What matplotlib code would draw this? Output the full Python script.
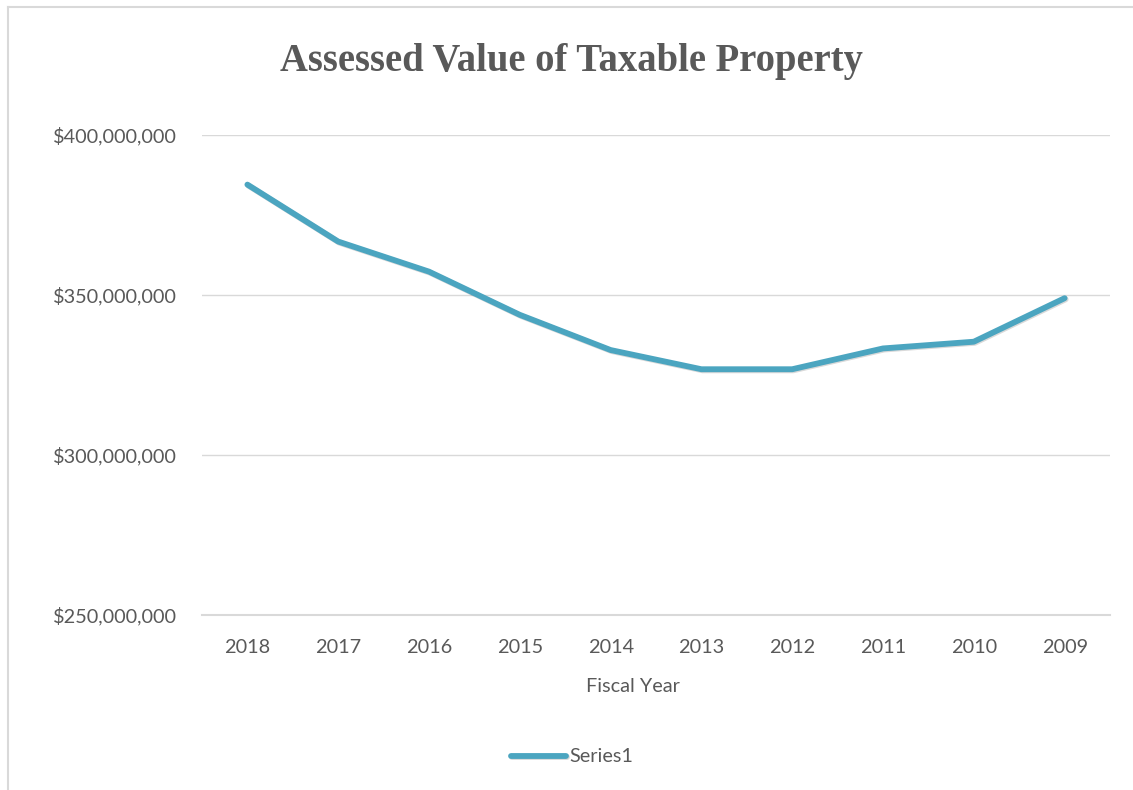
import matplotlib
matplotlib.use("Agg")
import matplotlib.pyplot as plt
import matplotlib.patheffects as pe
from matplotlib.ticker import FuncFormatter

# values
years = ["2018", "2017", "2016", "2015", "2014", "2013", "2012", "2011", "2010", "2009"]
assessed_value = [
    384.5e6, 366.7e6, 357.3e6, 343.8e6, 332.8e6,
    326.8e6, 326.8e6, 333.3e6, 335.4e6, 349.0e6,
]
y_ticks = [250e6, 300e6, 350e6, 400e6]

TEXT = "#595959"
GRID = "#D9D9D9"
LINE = "#4BA5C0"


def plot():
    fig = plt.figure(figsize=(11.33, 7.9), dpi=100)
    ax = fig.add_axes([202 / 1133, 1 - 615 / 790, (1110 - 202) / 1133, (615 - 135) / 790])

    # chart border (top and left visible in the reference)
    fig.add_artist(plt.Line2D([8 / 1133, 1.0], [1 - 7 / 790] * 2, color=GRID, lw=1.5))
    fig.add_artist(plt.Line2D([8 / 1133] * 2, [0.0, 1 - 7 / 790], color=GRID, lw=1.5))

    x = range(len(years))
    ax.plot(
        x, assessed_value, color=LINE, lw=4.2, solid_capstyle="round",
        solid_joinstyle="round", label="Series1",
        path_effects=[pe.SimpleLineShadow(offset=(0.8, -0.8), alpha=0.15), pe.Normal()],
    )

    ax.set_xlim(-0.5, len(years) - 0.5)
    ax.set_ylim(250e6, 400e6)
    ax.set_xticks(list(x))
    ax.set_xticklabels(years)
    ax.set_yticks(y_ticks)
    ax.yaxis.set_major_formatter(FuncFormatter(lambda v, _: f"${v:,.0f}"))

    ax.grid(axis="y", color=GRID, lw=1)
    ax.set_axisbelow(True)
    for side in ("top", "right", "left"):
        ax.spines[side].set_visible(False)
    ax.spines["bottom"].set_color(GRID)
    ax.spines["bottom"].set_linewidth(1.5)
    ax.tick_params(length=0, labelsize=14.3, colors=TEXT)
    ax.tick_params(axis="y", pad=18)
    ax.tick_params(axis="x", pad=17)
    for lbl in ax.get_xticklabels() + ax.get_yticklabels():
        lbl.set_family("Lato")

    ax.set_xlabel("Fiscal Year", fontsize=14.3, color=TEXT, family="Lato")
    ax.xaxis.set_label_coords((633 - 202) / 908, -(687 - 615) / 480)
    ax.xaxis.label.set_va("center")

    fig.text(571 / 1133, 1 - 62 / 790, "Assessed Value of Taxable Property",
             ha="center", va="center", fontsize=27.8, fontweight="bold",
             color=TEXT, family="Liberation Serif")

    leg = fig.legend(loc="center", bbox_to_anchor=(572 / 1133, 1 - 757 / 790),
                     frameon=False, handlelength=2.8, handletextpad=0.15,
                     prop={"family": "Lato", "size": 14.3})
    for t in leg.get_texts():
        t.set_color(TEXT)

    fig.savefig("out.png", dpi=100)


if __name__ == "__main__":
    plot()
